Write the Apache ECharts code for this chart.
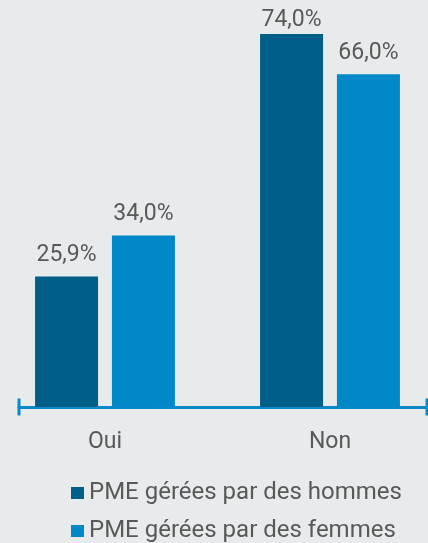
<!DOCTYPE html>
<html><head><meta charset="utf-8">
<script src="https://cdn.jsdelivr.net/npm/echarts@6/dist/echarts.min.js"></script>
<style>html,body{margin:0;padding:0;background:#e8ebec}#c{width:428px;height:543px}</style>
</head><body><div id="c"></div>
<script>
var categories = ['Oui', 'Non'];
var seriesNames = ['PME gérées par des hommes', 'PME gérées par des femmes'];
var hommes = [25.9, 74.0];
var femmes = [34.0, 66.0];
var colors = ['#005f89', '#0088c8'];
var yMax = 74;
var fmt = function (p) { return p.value.toFixed(1).replace('.', ',') + '%'; };
// the tallest bar's label sits closer to the bar so it stays inside the canvas
var toData = function (arr) {
  return arr.map(function (v) { return v >= yMax ? { value: v, label: { distance: 2 } } : v; });
};
var chart = echarts.init(document.getElementById('c'));
var lbl = { show: true, position: 'top', distance: 10, color: '#595959', fontSize: 23, fontFamily: 'Roboto', formatter: fmt };
chart.setOption({
  backgroundColor: '#e8ebec',
  animation: false,
  textStyle: { fontFamily: 'Roboto' },
  grid: [
    { left: -7.5, width: 450, top: 34, bottom: 136, containLabel: false, outerBoundsMode: 'none' },
    { left: 19, right: 1, top: 34, bottom: 136, containLabel: false, outerBoundsMode: 'none' }
  ],
  xAxis: [
    { type: 'category', gridIndex: 0, data: categories, axisLine: { show: false }, axisTick: { show: false },
      axisLabel: { color: '#595959', fontSize: 23, margin: 24, fontFamily: 'Roboto' } },
    { type: 'category', gridIndex: 1, data: [''], axisTick: { show: false }, axisLabel: { show: false },
      axisLine: { show: true, lineStyle: { color: '#0a88c8', width: 3 }, symbol: ['rect', 'rect'], symbolSize: [17, 3] } }
  ],
  yAxis: [
    { type: 'value', gridIndex: 0, min: 0, max: yMax, show: false, splitLine: { show: false } },
    { type: 'value', gridIndex: 1, min: 0, max: yMax, show: false, splitLine: { show: false } }
  ],
  legend: {
    orient: 'horizontal', left: 71, top: 481, width: 340, padding: 0, itemWidth: 13, itemHeight: 12, itemGap: 14,
    icon: 'rect',
    textStyle: { color: '#595959', fontSize: 24, fontFamily: 'Roboto', padding: [0, 0, 8, 0] },
    data: seriesNames
  },
  series: [
    { name: seriesNames[0], type: 'bar', data: toData(hommes), barWidth: 63, barGap: '22%', itemStyle: { color: colors[0] }, label: lbl },
    { name: seriesNames[1], type: 'bar', data: toData(femmes), barWidth: 63, barGap: '22%', itemStyle: { color: colors[1] }, label: lbl }
  ]
});
</script></body></html>
